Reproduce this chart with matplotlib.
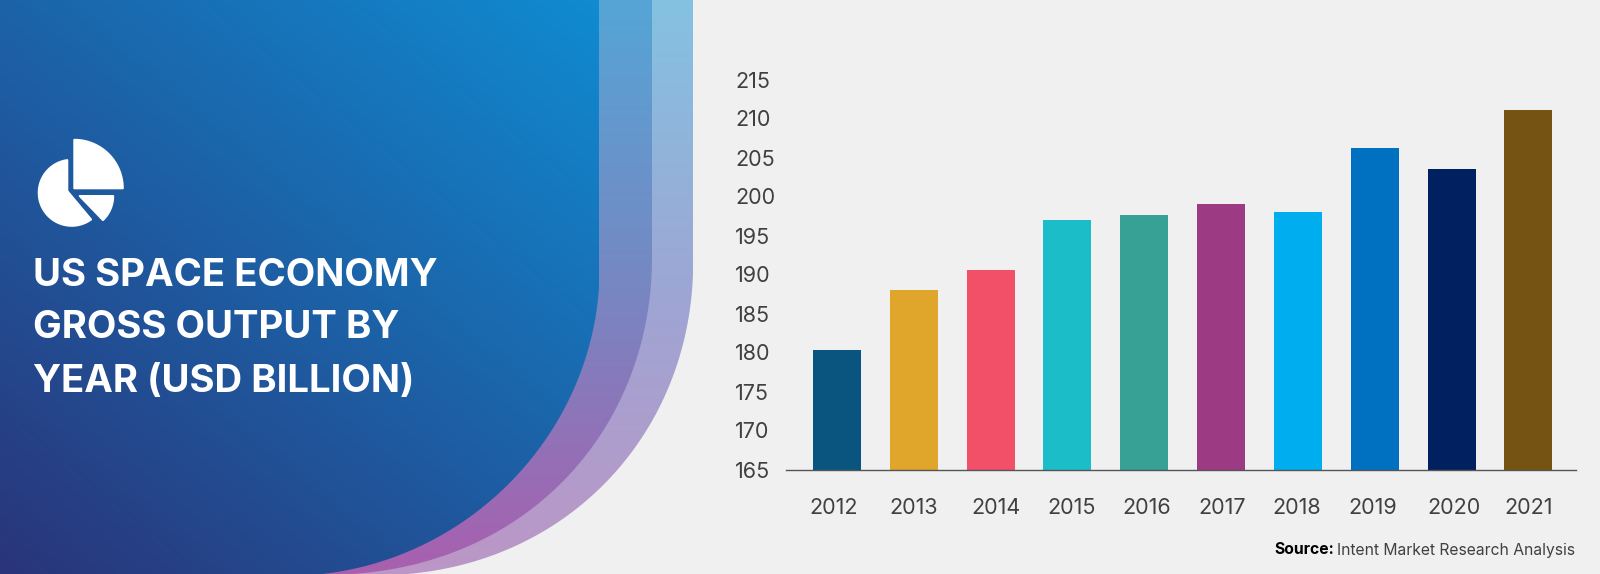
import numpy as np
import matplotlib
matplotlib.use("Agg")
import matplotlib.pyplot as plt
from matplotlib.patches import Polygon
from matplotlib.transforms import ScaledTranslation

years = ["2012", "2013", "2014", "2015", "2016", "2017", "2018", "2019", "2020", "2021"]
gross_output = [180.3, 188.0, 190.6, 197.0, 197.6, 199.0, 198.0, 206.2, 203.5, 211.1]
bar_colors = ["#0A5480", "#E0A52B", "#F25068", "#1BBEC8", "#37A195", "#9C3A83",
              "#00AEEF", "#0070C0", "#002060", "#755413"]
y_ticks = list(range(165, 216, 5))
title_lines = ["US SPACE ECONOMY", "GROSS OUTPUT BY", "YEAR (USD BILLION)"]

W, H = 1600, 574
BG = "#F0F0F0"
FONT = "Inter"
TXT = "#404040"
label_shift_px = [-3, 0, 5, 4, 2, 1, -1, -2, 2, 0]

fig = plt.figure(figsize=(W / 100, H / 100), dpi=100, facecolor=BG)

bgax = fig.add_axes([0, 0, 1, 1], zorder=0)
bgax.set_xlim(0, W)
bgax.set_ylim(H, 0)
bgax.axis("off")


def hex2rgb(c):
    return np.array(matplotlib.colors.to_rgb(c))


def swoosh(right, edge, cx=300.0, cy=250.0):
    # smooth curve: radius about a fixed point as a low-order polynomial of the angle
    e = np.array([(right, 250), (right, 275)] + edge, float)
    th = np.arctan2(e[:, 1] - cy, e[:, 0] - cx)
    r = np.hypot(e[:, 0] - cx, e[:, 1] - cy)
    coef = np.polyfit(th, r, 4)
    t = np.linspace(0, np.radians(93), 300)
    rr = np.polyval(coef, t)
    rr = rr + ((right - cx) - rr[0]) * np.exp(-t / 0.25)
    xs = np.minimum(cx + rr * np.cos(t), right)
    ys = np.minimum(cy + rr * np.sin(t), H)
    return np.vstack([[0, 0], [right, 0], np.column_stack([xs, ys]), [0, H]])


def gradient(stops, colors, fx, fy):
    yy, xx = np.mgrid[0:H, 0:720]
    t = np.clip(fx * xx / 700 + fy * (H - yy) / H, 0, 1)
    rgb = [hex2rgb(c) for c in colors]
    return np.dstack([np.interp(t, stops, [c[i] for c in rgb]) for i in range(3)])


outer_edge = [(690, 300), (682, 350), (663, 400), (640, 440), (610, 478),
              (567, 516), (533, 537), (500, 552), (467, 564), (433, 571), (405, 574)]
middle_edge = [(648, 300), (642, 343), (627, 383), (603, 430), (573, 474),
               (533, 507), (500, 529), (467, 546), (433, 559), (400, 569), (367, 573), (340, 574)]
inner_edge = [(595, 300), (592, 333), (583, 367), (570, 400), (550, 433),
              (520, 474), (500, 491), (467, 516), (433, 539), (400, 556), (367, 567), (333, 573),
              (310, 574)]

layers = [
    (swoosh(693, outer_edge), [0, 0.5, 1], ["#BC96C6", "#9DA6D4", "#84C2E2"], 0.0, 1.0),
    (swoosh(652, middle_edge), [0, 0.5, 1], ["#A95FAE", "#7787C2", "#55A5D6"], 0.0, 1.0),
    (swoosh(599, inner_edge), [0, 1], ["#2A3479", "#0E92D8"], 0.5, 0.5),
]
for pts, stops, colors, fx, fy in layers:
    im = bgax.imshow(gradient(stops, colors, fx, fy), extent=(0, 720, H, 0),
                     aspect="auto", interpolation="bilinear", zorder=1)
    clip = Polygon(pts, closed=True, transform=bgax.transData, fc="none", ec="none")
    bgax.add_patch(clip)
    im.set_clip_path(clip)
bgax.set_xlim(0, W)
bgax.set_ylim(H, 0)


def arc(cx, cy, r, a0, a1):
    th = np.radians(np.linspace(a0, a1, 60))
    return np.column_stack([cx + r * np.cos(th), cy - r * np.sin(th)])


big = np.vstack([[74.3, 188.3], arc(74.3, 188.3, 48.5, 0, 90)])
small = np.vstack([[79.7, 196], arc(79.7, 196, 33.5, -46, 0)])
main = np.vstack([[67.3, 191], arc(71.7, 192.8, 33, 97.7, 306)])
for shp in (big, small, main):
    bgax.add_patch(Polygon(shp, closed=True, fc="white", ec="white", lw=1.44,
                           joinstyle="round", zorder=3))

for line, yb in zip(title_lines, [286, 338.5, 392]):
    bgax.text(33, yb, line, color="white", fontsize=27.6, family=FONT, weight="bold",
              va="baseline", ha="left", zorder=4)

bgax.text(1334, 550, "Source:", color="black", fontsize=11.3, family=FONT, weight="bold",
          va="center", ha="right", zorder=4)
bgax.text(1337, 550, "Intent Market Research Analysis", color=TXT, fontsize=11.27, family=FONT,
          va="center", ha="left", zorder=4)

ax = fig.add_axes([786 / W, 1 - 469.5 / H, 790 / W, 390 / H], zorder=2)
ax.patch.set_alpha(0)
pos = np.arange(len(years))
ax.bar(pos, gross_output, width=0.625, color=bar_colors)
ax.set_xlim(-0.664, 9.62)
ax.set_ylim(165, 215)
ax.set_yticks(y_ticks)
ax.set_xticks(pos)
ax.set_xticklabels(years)
ax.tick_params(axis="both", length=0, labelsize=15.5, labelcolor=TXT)
ax.tick_params(axis="x", pad=20.7)
ax.tick_params(axis="y", pad=36.8)
for lab in ax.get_yticklabels():
    lab.set_family(FONT)
    lab.set_horizontalalignment("left")
for lab, dx in zip(ax.get_xticklabels(), label_shift_px):
    lab.set_family(FONT)
    lab.set_transform(lab.get_transform() + ScaledTranslation(dx / 100, 0, fig.dpi_scale_trans))
for s in ("top", "right", "left"):
    ax.spines[s].set_visible(False)
ax.spines["bottom"].set_color("#555555")
ax.spines["bottom"].set_linewidth(1.0)

fig.savefig("out.png", dpi=100, facecolor=BG)
